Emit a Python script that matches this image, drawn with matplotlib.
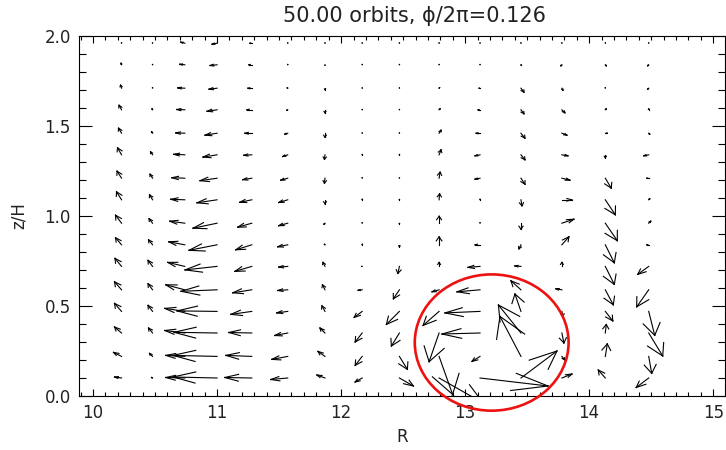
import numpy as np
import matplotlib.pyplot as plt
from matplotlib.collections import LineCollection
from matplotlib.patches import Ellipse

# grid of the velocity field
R = [10.23, 10.48, 10.74, 11.00, 11.28, 11.57, 11.87, 12.17, 12.47, 12.79,
     13.12, 13.45, 13.78, 14.13, 14.48]
Z = [0.10, 0.22, 0.35, 0.47, 0.59, 0.72, 0.84, 0.96, 1.09, 1.21, 1.34, 1.46,
     1.59, 1.71, 1.84, 1.96]

# velocity components, one row per height (lowest first), one entry per R
vr = [
    [-7, -1, -19, -44, -27, -17, -8, -7, 14, 44, 68, 36, 10, -7, -12.5],
    [-8, -3, -19, -44, -26, -16, -7, -7, 8, 13.5, -8, -21, 3, 2, 3],
    [-7, -4, -20, -43, -23, -13, -5, -7, -8, -10, -38, -22.5, 2, 1, 14],
    [-7, -4.5, -20, -40, -21, -11, -3, -8, -13, -16, -35, -6, 1, 7.5, 6],
    [-7, -4.5, -19, -36, -19, -10, -2.5, -4, -6, -7, -23, -10, -6, 8, -12],
    [-6.5, -4.5, -17, -32, -17, -9, -2, -0.5, -1.5, 0, -12, -6, 0, 9, -11],
    [-6, -4, -16, -28, -16, -10, -0.5, 0, 0, 0, -5, -2, 7, 9, -2],
    [-6, -3.5, -15, -24, -14, -9, -1, 0, 0, 0, 0, 0, 12, 12, 2],
    [-5, -3, -14, -20, -12, -9, 0, 0, 0, 0.5, 0, 1, 10, 10, 1],
    [-4.5, -2.5, -13, -17, -9, -7, -0.5, 0, 0, 1, -5, 4, 8, 6, -2],
    [-4, -2, -11, -14, -8, -5, -0.5, 0, 0, 2, -5, 4, 6, 0, -5],
    [-3, -1, -9, -12, -7, -3, 0, 0, 0, 2, -4, 4, 5, 2, 1],
    [-2.5, -0.5, -8, -10, -5, -1, 0, 0, 0, 1, -2, 3, 3, 1, 0],
    [-1, 0, -7, -8, -4, -0.5, 0, 0, 0, 0.5, -1, 3, 1, 0, -1],
    [-0.5, 0, -5, -7, -3, 0, 0, 0, 0, 0, 0, 0.5, -1, 1, -1],
    [0, 0, -4, -5, -2, 0, 0, 0, 0, 0, 0, 0, 0, 0, 0],
]
vz = [
    [1, 0.5, 0.5, 1, 0.5, -1.5, 3, -4, -8, -25, -8, 27, 4, 8, -9.5],
    [4, 3, 1, 1, 1, -3, 5, -9, -13, -38, -5, 40, -3.5, 12.5, -17],
    [6, 5, 2.5, 0.7, 0.5, -2.5, 5, -9, -13, -28.7, -1, 28, -10, 8.5, -23],
    [8, 6, 3, 0.5, -3, -1.5, 5.5, -6, -13, -14, -1.5, 17.4, -5, -9.5, -24],
    [8, 6, 5, -1.5, -3, -0.7, 5, -0.5, -9, -2, -2, 9, 1, -15, -17],
    [8, 6, 4, -3.5, -5, -0.7, 4, 0, -7, 4, -1, 0.5, 4, -18, -8],
    [7, 5, 3, -5.5, -5, -2, 0.5, 0.5, -2, 8, 0, -4, 8, -18, 0],
    [8, 4.5, 2, -5, -4, -2.5, -1, 0.5, -0.5, 7, 0.5, -6, 4, -17.5, 2],
    [8, 5, 0.5, -3, -2.5, -2.7, -4, 0.5, 0.3, 6, 0.5, -6, 0, -15, 1],
    [7, 4, 0.5, -2.5, -1.5, -2, -5, 0.5, 0.3, 6, -1, -6, -2, -10, 0],
    [7, 3, 0.5, -2.3, -0.5, -1.7, -4.5, 0.3, 0.3, 5, -1, -5, -1, -3, -1],
    [5, 1.5, 0.3, -2, 0, -1, -4, 0.3, 0.3, 3, 0, -5, -2, 0, -1],
    [4.5, 1, 0.3, -1.5, 0, -0.5, -3, 0.3, 0.3, 1, 0, -4, -3, 1, 1],
    [3, 0.5, 0.3, -1, 0, 0.3, -1.5, 0.3, 0.3, 0.5, 0, -4, -2, 0.5, -1],
    [1.5, 0.3, 0.5, -0.7, 0, 0.3, -0.5, 0.3, 0.3, 0.3, 0.3, -0.5, -1, -1, -1],
    [0.5, 0.3, 1, -1, 0, 0.3, 0.3, 0.3, 0.3, 0.3, 0.3, 0.3, 0.3, 0.3, 0.3],
]

scale_r = 1 / 124.0   # arrow length per velocity unit, in R
scale_z = 1 / 180.0   # same, in z/H
head = 0.55           # head length as a fraction of the arrow
ang = np.deg2rad(22.5)
aniso = 2.42          # heads drawn in grid-index space (dR/dz)

segs = []
for j, z in enumerate(Z):
    for i, r in enumerate(R):
        du = vr[j][i] * scale_r
        dw = vz[j][i] * scale_z
        x1, y1 = r + du, z + dw
        segs.append([(r, z), (x1, y1)])
        bx, by = -head * du, -head * dw * aniso
        for s in (1, -1):
            c, sn = np.cos(ang), s * np.sin(ang)
            hx = bx * c - by * sn
            hy = bx * sn + by * c
            segs.append([(x1, y1), (x1 + hx, y1 + hy / aniso)])

txt = '#222222'

fig = plt.figure(figsize=(7.26, 4.5), dpi=100)
ax = fig.add_axes([79 / 726, 54 / 450, 646 / 726, 360 / 450])

lc = LineCollection(segs, colors='black', linewidths=0.8, capstyle='projecting')
ax.add_collection(lc)

ell = Ellipse((13.214, 0.297), 1.24, 0.757, fill=False, ec='#ee1111', lw=1.9,
              clip_on=False, zorder=5)
ax.add_patch(ell)

ax.set_xlim(9.887, 15.095)
ax.set_ylim(0, 2)
ax.set_xticks([10, 11, 12, 13, 14, 15])
ax.set_xticks(np.arange(9.9, 15.1, 0.1), minor=True)
ax.set_yticks([0.0, 0.5, 1.0, 1.5, 2.0])
ax.set_yticks(np.arange(0, 2.01, 0.1), minor=True)
ax.set_yticklabels(['0.0', '0.5', '1.0', '1.5', '2.0'])

ax.tick_params(which='both', direction='in', top=True, right=True,
               labelsize=12, colors='black', labelcolor=txt)
ax.tick_params(axis='x', which='major', length=5.2, width=0.8, pad=6)
ax.tick_params(axis='x', which='minor', length=2.6, width=0.8)
ax.tick_params(axis='y', which='major', length=9.3, width=0.8, pad=6)
ax.tick_params(axis='y', which='minor', length=4.7, width=0.8)
for sp in ax.spines.values():
    sp.set_linewidth(0.8)

ax.set_xlabel('R', fontsize=12, labelpad=4, color=txt)
ax.set_ylabel('z/H', fontsize=12, labelpad=12, color=txt)
ax.set_title('50.00 orbits, \u03d5/2\u03c0=0.126', fontsize=15, pad=10,
             color=txt, x=0.52)

fig.savefig('out.png', dpi=100)
